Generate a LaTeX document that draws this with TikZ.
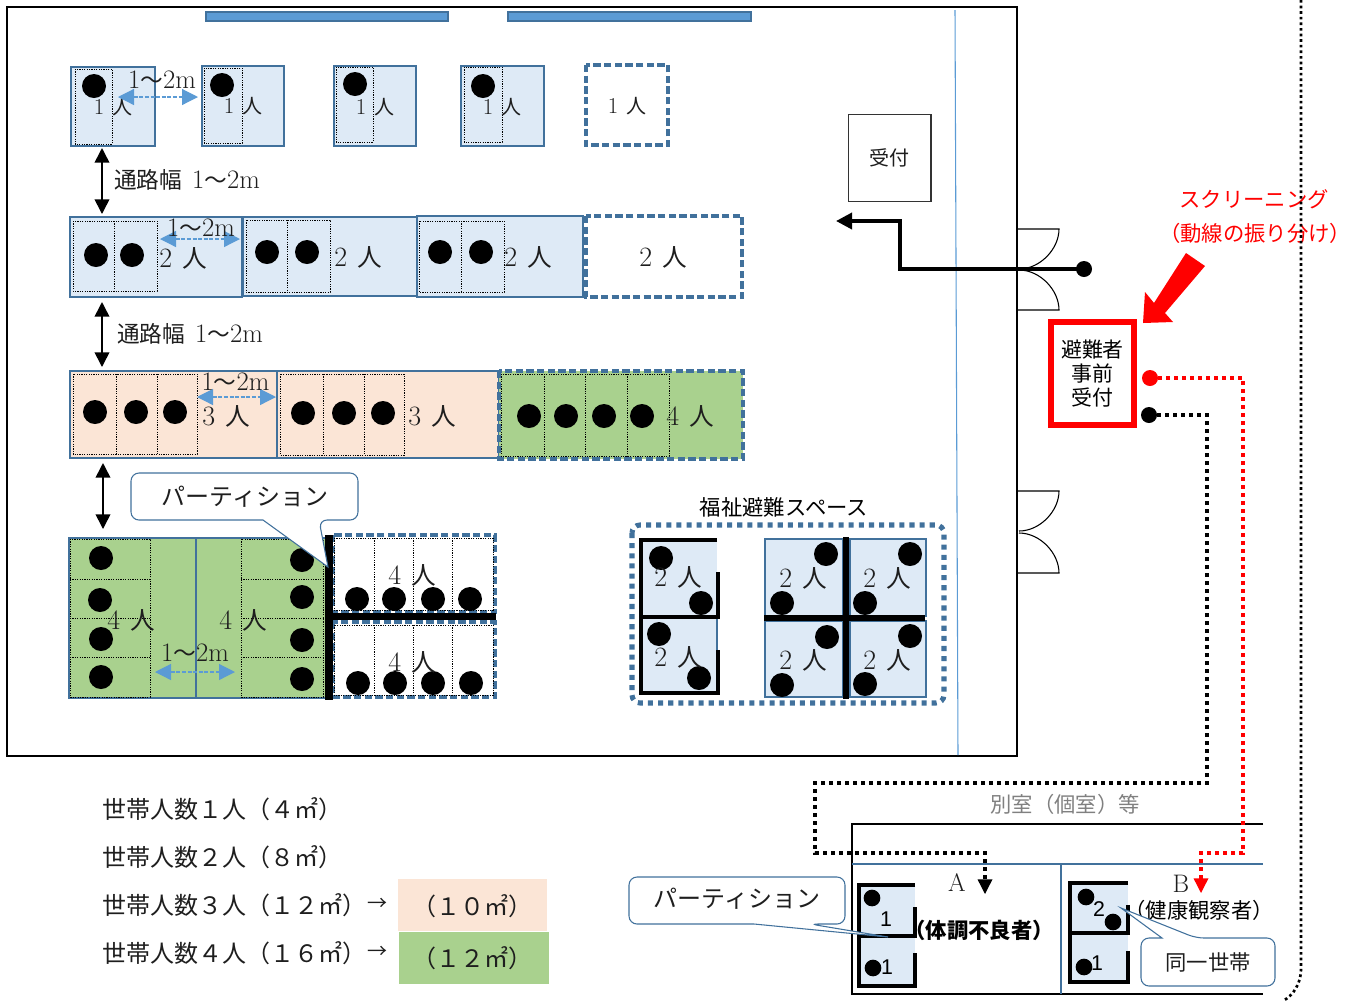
\documentclass[tikz,border=0pt]{standalone}
\usepackage{fontspec}
\usetikzlibrary{arrows.meta,calc}
\newfontfamily\cjk{Noto Sans CJK JP}
\newcommand{\fs}[1]{\fontsize{#1}{#1}\selectfont}
\newcommand{\pplS}[1]{{\fs{17}#1}\hspace{0.4em}{\cjk 人}}
\newcommand{\pplB}[1]{{\fs{21}#1}\hspace{0.4em}{\cjk 人}}
\newcommand{\rng}{{\fs{20}1}{\fs{17}\cjk 〜}{\fs{20}2m}}
\definecolor{bluebd}{HTML}{41719C}
\definecolor{arrowb}{HTML}{5B9BD5}
\definecolor{roomf}{HTML}{DEEAF6}
\definecolor{peach}{HTML}{FBE5D6}
\definecolor{grn}{HTML}{A9D18E}
\definecolor{txt}{HTML}{1E1E1E}
\tikzset{
 roomb/.style={draw=bluebd,line width=2.2pt,fill=roomf},
 roomp/.style={draw=bluebd,line width=2.2pt,fill=peach},
 roomg/.style={draw=bluebd,line width=2.2pt,fill=grn},
 roomd/.style={draw=bluebd,line width=2.3pt,dash pattern=on 5.5pt off 2.5pt,fill=white},
 roomgd/.style={draw=bluebd,line width=2.3pt,dash pattern=on 5.5pt off 2.5pt,fill=grn},
 inner/.style={draw=black,line width=0.75pt,dash pattern=on 0.9pt off 0.9pt},
 pdot/.style={circle,fill=black,minimum size=18pt,inner sep=0pt},
 wall/.style={draw=black,line width=2pt},
 thick wall/.style={draw=black,line width=3.6pt},
 parts/.style={draw=black,line width=2.6pt},
 lbl/.style={inner sep=0pt,text=txt,font=\fs{15}},
 lblb/.style={inner sep=0pt,text=txt,font=\fs{18.5}},
 rngl/.style={inner sep=0pt,text=txt},
 jp/.style={inner sep=0pt,text=txt,font=\fs{#1}\cjk,align=center},
 gapar/.style={draw=arrowb,line width=0.9pt,dash pattern=on 3pt off 1.2pt,{Triangle[width=12pt,length=12pt]}-{Triangle[width=12pt,length=12pt]}},
 aisle/.style={draw=black,line width=1.2pt,{Triangle[width=11pt,length=11pt]}-{Triangle[width=11pt,length=11pt]}},
 callout/.style={draw=bluebd,line width=0.8pt,fill=white},
 doorl/.style={draw=black,line width=0.8pt},
 route/.style={line width=3pt,dash pattern=on 3pt off 3pt},
 bar/.style={draw=bluebd,fill=arrowb,line width=1pt},
 numl/.style={inner sep=0pt,text=black,font=\fs{16}\fontspec{Liberation Sans}},
}
\begin{document}
\begin{tikzpicture}[x=0.75pt,y=-0.75pt]
\useasboundingbox (0,0) rectangle (1350,1001);
% main hall
\draw[wall] (7,7) rectangle (1017,756);
\draw[draw=arrowb,line width=0.8pt] (955,10) -- (958,755);
\draw[bar] (206,12) rectangle (448,21);
\draw[bar] (508,12) rectangle (751,21);
% row 1
\draw[roomb] (71,67) rectangle (155,146);
\draw[roomb] (202,66) rectangle (284,146);
\draw[roomb] (334,66) rectangle (416,146);
\draw[roomb] (461,66) rectangle (544,146);
\draw[roomd] (586,65) rectangle (668,145);
\draw[inner] (75,69) rectangle (112,144);
\draw[inner] (204,68) rectangle (242,143);
\draw[inner] (336,67) rectangle (373,142);
\draw[inner] (464,67) rectangle (502,142);
% row 2
\draw[roomb] (70,217) rectangle (242,297);
\draw[roomb] (243,217) rectangle (417,296);
\draw[roomb] (417,216) rectangle (583,297);
\draw[roomd] (586,216) rectangle (742,297);
\draw[inner] (73,221) rectangle (157,291) (114,221) -- (114,291);
\draw[inner] (246,220) rectangle (330,292) (287,220) -- (287,292);
\draw[inner] (419,221) rectangle (504,292) (461,221) -- (461,292);
% row 3
\draw[roomp] (70,371) rectangle (277,458);
\draw[roomp] (277,371) rectangle (499,458);
\draw[roomgd] (499,371) rectangle (743,459);
\draw[inner] (73,374) rectangle (197,454) (116,374) -- (116,454) (157,374) -- (157,454);
\draw[inner] (280,374) rectangle (404,455) (323,374) -- (323,455) (364,374) -- (364,455);
\draw[inner] (501,374) rectangle (669,456) (544,374) -- (544,456) (585,374) -- (585,456) (627,374) -- (627,456);
% row 4
\draw[roomg] (69,538) rectangle (196,698);
\draw[roomg] (196,538) rectangle (327,698);
\draw[inner] (70,539) rectangle (150,697) (70,579) -- (150,579) (70,618) -- (150,618) (70,657) -- (150,657);
\draw[inner] (241,539) rectangle (323,697) (241,579) -- (323,579) (241,618) -- (323,618) (241,657) -- (323,657);
\draw[roomd] (333,535) rectangle (495,612);
\draw[roomd] (333,622) rectangle (495,697);
\draw[inner] (334,538) rectangle (493,610) (374,538) -- (374,610) (413,538) -- (413,610) (452,538) -- (452,610);
\draw[inner] (334,625) rectangle (493,695) (374,625) -- (374,695) (413,625) -- (413,695) (452,625) -- (452,695);
\draw[fill=black,draw=none] (325,535) rectangle (333,700);
\draw[fill=black,draw=none] (333,613) rectangle (496,620);
% welfare space
\node[jp=16,text=black] (fuk) at (784,507) {福祉避難スペース};
\draw[draw=bluebd,line width=3.8pt,dash pattern=on 3.8pt off 3.8pt,rounded corners=6pt] (632,525) rectangle (944,703);
\fill[roomf] (641,540) rectangle (717,693);
\draw[draw=bluebd,line width=1.4pt] (717,617) -- (717,650);
\draw[draw=bluebd,line width=2.2pt,fill=roomf] (765,539) rectangle (843,616);
\draw[draw=bluebd,line width=2.2pt,fill=roomf] (850,539) rectangle (926,616);
\draw[draw=bluebd,line width=2.2pt,fill=roomf] (765,621) rectangle (843,697);
\draw[draw=bluebd,line width=2.2pt,fill=roomf] (850,621) rectangle (926,697);
\draw[thick wall] (717,540) -- (641,540) -- (641,693) -- (718,693) -- (718,650);
\draw[thick wall] (640,617) -- (718,617) -- (718,572);
\draw[draw=black,line width=4.2pt] (846,537) -- (846,699);
\draw[draw=black,line width=4.2pt] (764,618) -- (925,618);
% side room
\draw[wall] (1263,824) -- (852,824) -- (852,994) -- (1263,994);
\draw[draw=bluebd,line width=0.8pt] (852,864) -- (1263,864) (1061,864) -- (1061,994);
\fill[roomf] (859,885) rectangle (915,986);
\fill[roomf] (1070,883) rectangle (1128,982);
\draw[parts] (915,885) -- (859,885) -- (859,986) -- (915,986) -- (915,953);
\draw[parts] (859,936) -- (915,936) -- (915,907);
\draw[parts] (1128,883) -- (1070,883) -- (1070,982) -- (1128,982) -- (1128,951);
\draw[parts] (1070,933) -- (1128,933) -- (1128,905);
% dots
\foreach \n/\x/\y in {a1/94/86,a2/222/85,a3/355/84,a4/483/86,
  b1/96/255,b2/132/255,b3/267/252,b4/307/252,b5/440/252,b6/481/252,
  c1/95/412,c2/136/412,c3/175/412,c4/303/413,c5/344/413,c6/383/413,c7/529/416,c8/566/416,c9/604/416,c10/642/416,
  e1/101/558,e2/100/600,e3/101/639,e4/101/677,e5/302/560,e6/302/597,e7/302/640,e8/302/679,
  f1/357/599,f2/394/599,f3/433/599,f4/470/599,f5/358/683,f6/395/683,f7/433/683,f8/471/683,
  g1/661/558,g2/701/603,g3/659/634,g4/699/678,g5/826/554,g6/782/603,g7/910/554,g8/865/603,
  g9/827/637,g10/782/685,g11/910/636,g12/865/684}
  \node[pdot] (\n) at (\x,\y) {};
\foreach \n/\x/\y in {h1/872/898,h2/873/968,h3/1086/897,h4/1113/922,h5/1084/967}
  \node[pdot,minimum size=12.5pt] (\n) at (\x,\y) {};
% people labels
\foreach \n/\x/\y/\t in {p1/113/107/1,p2/243/106/1,p3/375/107/1,p4/502/107/1,p5/627/106/1}
  \node[lbl] (\n) at (\x,\y) {\pplS{\t}};
\foreach \n/\x/\y/\t in {q1/183/258/2,q2/358/257/2,q3/528/257/2,q4/663/257/2,
  q5/226/416/3,q6/432/416/3,q7/690/416/4,q8/131/620/4,q9/243/620/4,q10/412/575/4,q11/412/662/4,
  q12/678/577/2,q13/678/657/2,q14/803/578/2,q15/887/578/2,q16/803/660/2,q17/887/660/2}
  \node[lblb] (\n) at (\x,\y) {\pplB{\t}};
% gap arrows
\coordinate (g1a) at (118,97); \coordinate (g1b) at (198,97);
\coordinate (g2a) at (160,239); \coordinate (g2b) at (240,239);
\coordinate (g3a) at (197,397); \coordinate (g3b) at (276,397);
\coordinate (g4a) at (155,672); \coordinate (g4b) at (235,672);
\draw[gapar] (g1a) -- (g1b);
\draw[gapar] (g2a) -- (g2b);
\draw[gapar] (g3a) -- (g3b);
\draw[gapar] (g4a) -- (g4b);
\node[rngl] (r1) at (162,80) {\rng};
\node[rngl] (r2) at (201,228) {\rng};
\node[rngl] (r3) at (235.5,382) {\rng};
\node[rngl] (r4) at (195,653) {\rng};
% aisles
\coordinate (w1a) at (102,148); \coordinate (w1b) at (102,214);
\coordinate (w2a) at (102,302); \coordinate (w2b) at (102,367);
\coordinate (w3a) at (103,463); \coordinate (w3b) at (103,529);
\draw[aisle] (w1a) -- (w1b);
\draw[aisle] (w2a) -- (w2b);
\draw[aisle] (w3a) -- (w3b);
\node[inner sep=0pt,text=txt,font=\fs{17}] (t1) at (187,180) {{\cjk 通路幅}\hspace{0.45em}\rng};
\node[inner sep=0pt,text=txt,font=\fs{17}] (t2) at (190,334) {{\cjk 通路幅}\hspace{0.45em}\rng};
% callout 1
\draw[callout,rounded corners=6pt] (263,520) -- (131,520) -- (131,473) -- (358,473) -- (358,520) -- (319,520) [sharp corners] -- (328,567) -- cycle;
\node[jp=18] (k1) at (245,497) {パーティション};
% reception
\node[draw=black!80,line width=1pt,fill=white,minimum width=62pt,minimum height=65pt,inner sep=0pt,text=txt,font=\fs{15}\cjk] (uke) at (889.5,158) {受付};
% doors
\foreach \a/\b/\c in {229/269/1, 310/270/2, 491/531/3, 573/533/4}
  \draw[doorl] (1018,\a) -- (1059,\a) .. controls (1059,{(\a*0.5+\b*0.5)}) and (1040,\b) .. (1019,\b);
% entry route
\node[pdot,minimum size=12pt] (ent) at (1084,269) {};
\coordinate (entin) at (836,221);
\draw[line width=2.7pt,-{Triangle[width=12pt,length=12pt]}] (ent.center) -- (900,269) -- (900,221) -- (entin);
% pre-reception
\node[draw=red,line width=4.2pt,fill=white,minimum width=62.6pt,minimum height=77.6pt,inner sep=0pt,align=center,font=\fs{15.7}\cjk,text=black] (pre) at (1092.5,373.5) {避難者\\[2.3pt]事前\\[2.3pt]受付};
\fill[red] (1186,253) -- (1205,266) -- (1165,313) -- (1173,322) -- (1143,323) -- (1145,292) -- (1154,303) -- cycle;
\node[jp=16,text=red] (s1) at (1254,199) {スクリーニング};
\node[jp=16,text=red] (s2) at (1255,233) {（動線の振り分け）};
% routes
\node[pdot,minimum size=12pt,fill=red] (rd) at (1150,378) {};
\node[pdot,minimum size=12pt] (bd) at (1149,415) {};
\coordinate (rend) at (1201,893);
\coordinate (bend) at (985,894);
\draw[route,draw=red] (rd.center) -- (1243,378) -- (1243,853) -- (1201,853) -- ($(rend)+(0,-6)$);
\draw[red,-{Triangle[width=11pt,length=11pt]},line width=1pt] ($(rend)+(0,-8)$) -- (rend);
\draw[route,draw=black] (bd.center) -- (1207,415) -- (1207,783) -- (815,783) -- (815,853) -- (985,853) -- ($(bend)+(0,-6)$);
\draw[black,-{Triangle[width=11pt,length=11pt]},line width=1pt] ($(bend)+(0,-8)$) -- (bend);
% outer dotted
\draw[draw=black,line width=2pt,dash pattern=on 2pt off 2.2pt] (1301,0) -- (1301,968) .. controls (1301,985) and (1293,995) .. (1283,1001);
% side room labels
\node[jp=16,text=black!50] (bs) at (1065,804) {別室（個室）等};
\node[inner sep=0pt,text=txt,font=\fs{19}] (la) at (957,883) {A};
\node[inner sep=0pt,text=txt,font=\fs{19}] (lb) at (1181,884) {B};
\node[inner sep=0pt,text=black,font=\fs{16}\cjk\bfseries] (ta) at (979,930) {（体調不良者）};
\node[inner sep=0pt,text=black,font=\fs{16}\cjk] (tb) at (1199,910) {（健康観察者）};
\node[numl] (n1) at (886,919) {1};
\node[numl] (n2) at (887,967) {1};
\node[numl] (n3) at (1099,909) {2};
\node[numl] (n4) at (1097,963) {1};
% callouts lower
\draw[callout,rounded corners=6pt] (754,924) -- (629,924) -- (629,877) -- (845,877) -- (845,924) -- (810,924) [sharp corners] -- (888,937) -- cycle;
\node[jp=18] (k2) at (737,899) {パーティション};
\draw[callout,rounded corners=6pt] (1162,938) -- (1141,938) -- (1141,986) -- (1275,986) -- (1275,938) -- (1196,938) [sharp corners] -- (1121,908) -- cycle;
\node[jp=16] (k3) at (1208,962) {同一世帯};
% legend
\node[jp=18,anchor=west] (l1) at (102,809) {世帯人数１人（４㎡）};
\node[jp=18,anchor=west] (l2) at (102,857) {世帯人数２人（８㎡）};
\node[jp=18,anchor=west] (l3) at (102,905) {世帯人数３人（１２㎡）};
\node[jp=18,anchor=west] (l4) at (102,953) {世帯人数４人（１６㎡）};
\node[jp=15] (ar3) at (377,904) {→};
\node[jp=15] (ar4) at (377,952) {→};
\fill[peach] (398,879) rectangle (547,931);
\fill[grn] (399,932) rectangle (549,984);
\node[jp=18] (m1) at (472,906) {（１０㎡）};
\node[jp=18] (m2) at (472,958) {（１２㎡）};
\end{tikzpicture}
\end{document}
